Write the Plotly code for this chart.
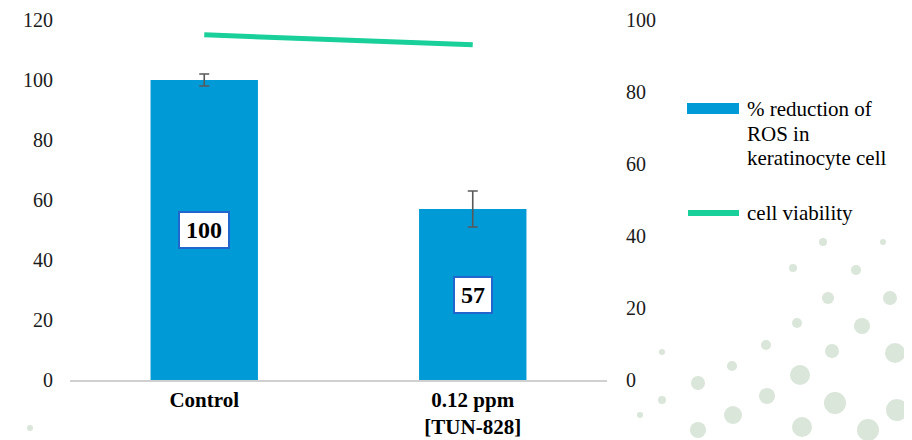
import plotly.graph_objects as go

categories = ["Control", "0.12 ppm<br>[TUN-828]"]
ros_reduction = [100, 57]
ros_error = [2, 6]
cell_viability = [95.9, 93.1]
bar_labels = ["100", "57"]
left_ticks = [0, 20, 40, 60, 80, 100, 120]
right_ticks = [0, 20, 40, 60, 80, 100]
legend_bar_lines = ["% reduction of", "ROS in", "keratinocyte cell"]
legend_line_text = "cell viability"

SERIF = "Liberation Serif"
BLUE = "#009ad6"
GREEN = "#19d09a"

fig = go.Figure()
fig.add_trace(go.Bar(
    x=categories, y=ros_reduction, name=" ".join(legend_bar_lines),
    marker=dict(color=BLUE, line=dict(width=0)),
    error_y=dict(type="data", array=ros_error, visible=True, color="#595959", thickness=1.6, width=5),
    showlegend=False, yaxis="y",
))
fig.add_trace(go.Scatter(
    x=categories, y=cell_viability, name=legend_line_text, mode="lines",
    line=dict(color=GREEN, width=5), showlegend=False, yaxis="y2",
))

annotations = []
for c, v, t in zip(categories, ros_reduction, bar_labels):
    annotations.append(dict(
        x=c, y=v / 2, xref="x", yref="y", text=f"<b>{t}</b>", showarrow=False,
        font=dict(family=SERIF, size=24, color="black"), bgcolor="white",
        width=12 * len(t) + 8, height=30,
        bordercolor="#2166cc", borderwidth=2, borderpad=2,
    ))

def px(xp):
    return (xp - 70) / 537

def py(yp):
    return (380 - yp) / 360

for txt, ycen in zip(legend_bar_lines, [109, 133.5, 158]):
    annotations.append(dict(x=px(745), y=py(ycen), xref="paper", yref="paper", xanchor="left", yanchor="middle",
                            text=txt, showarrow=False, align="left",
                            font=dict(family=SERIF, size=21, color="black")))
annotations.append(dict(x=px(745), y=py(213), xref="paper", yref="paper", xanchor="left", yanchor="middle",
                        text=legend_line_text, showarrow=False, align="left",
                        font=dict(family=SERIF, size=21, color="black")))

shapes = [
    dict(type="rect", xref="paper", yref="paper", x0=px(687), x1=px(739), y0=py(114), y1=py(103),
         fillcolor=BLUE, line=dict(width=0)),
    dict(type="line", xref="paper", yref="paper", x0=px(688), x1=px(739), y0=py(213), y1=py(213),
         line=dict(color=GREEN, width=6)),
]

# decorative background dots
dots = [(890, 298, 7), (862, 326, 8), (828, 298, 6), (856, 270, 5), (895, 353, 10), (832, 351, 7),
        (800, 375, 10), (835, 403, 11), (767, 396, 8), (733, 415, 9), (698, 383, 7), (698, 430, 8),
        (797, 323, 5), (766, 345, 5), (732, 366, 5), (868, 430, 11), (802, 427, 10), (793, 268, 4),
        (823, 242, 4), (883, 242, 3), (907, 211, 3), (897, 410, 11), (662, 400, 4), (662, 352, 3),
        (30, 428, 3), (640, 415, 3)]
for (cx, cy, r) in dots:
    shapes.append(dict(type="circle", xref="paper", yref="paper", layer="below",
                       x0=px(cx - r), x1=px(cx + r), y0=py(cy + r), y1=py(cy - r),
                       fillcolor="rgba(170,200,170,0.45)", line=dict(width=0)))

tickfont = dict(family=SERIF, size=20, color="#1a1a1a")
fig.update_layout(
    width=904, height=432,
    font=dict(family=SERIF, size=20, color="#1a1a1a"),
    margin=dict(l=62, r=305, t=12, b=60, autoexpand=False),
    paper_bgcolor="white", plot_bgcolor="rgba(0,0,0,0)",
    bargap=0.6,
    xaxis=dict(showline=True, linecolor="#d0d0d0", linewidth=1.5, showgrid=False, ticks="", automargin=False,
               ticklabelstandoff=0,
               tickfont=dict(family=SERIF, size=21, color="black"), tickprefix="<b>", ticksuffix="</b>"),
    yaxis=dict(range=[0, 120], tickvals=left_ticks, showgrid=False, zeroline=False, showline=False,
               ticks="", ticklabelstandoff=16, automargin=False, ticklabeloverflow="allow",
               tickfont=tickfont),
    yaxis2=dict(range=[0, 100], tickvals=right_ticks, overlaying="y", side="right", showgrid=False,
                zeroline=False, showline=False, ticks="", ticklabelstandoff=18, automargin=False,
                ticklabeloverflow="allow", tickfont=tickfont),
    annotations=annotations, shapes=shapes, showlegend=False,
)

fig.write_html("out.html")
